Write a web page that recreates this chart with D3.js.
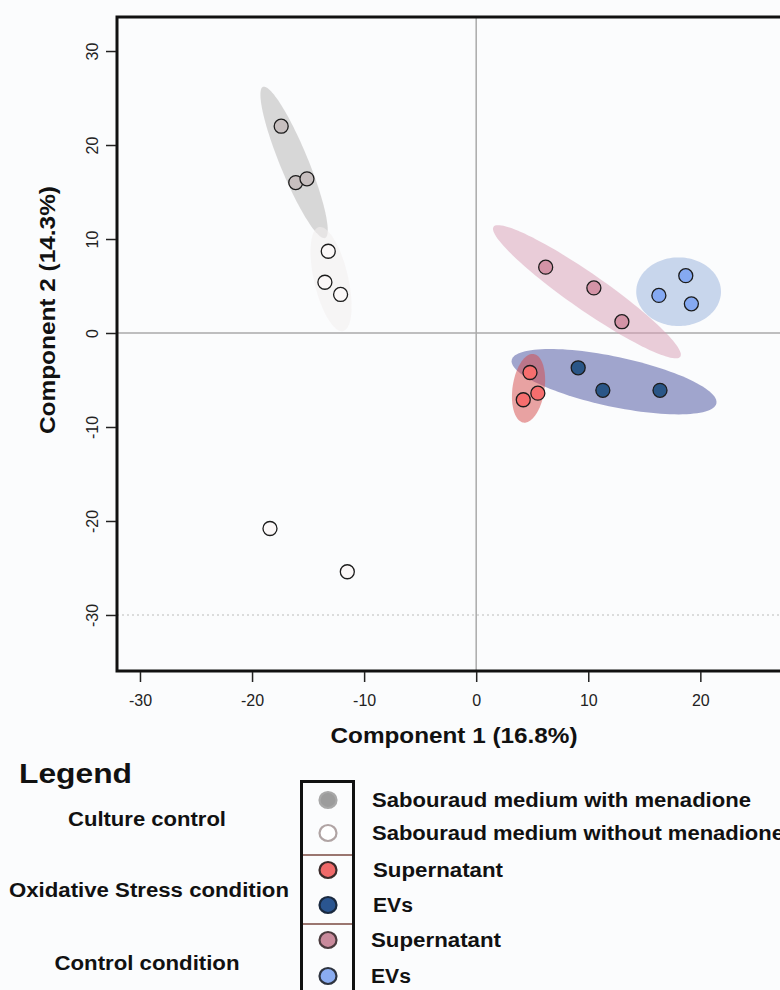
<!DOCTYPE html>
<html>
<head>
<meta charset="utf-8">
<script src="https://cdn.jsdelivr.net/npm/d3@7"></script>
<style>
  html, body { margin: 0; padding: 0; background: #fbfcfd; }
  svg { display: block; font-family: "Liberation Sans", Arial, sans-serif; }
</style>
</head>
<body>
<svg id="chart" width="780" height="990"></svg>
<script>
// ---- data (PC scores) ----
var groupNames = ["Sabouraud medium with menadione", "Sabouraud medium without menadione",
  "Supernatant", "EVs", "Supernatant", "EVs"];
var conditionNames = ["Culture control", "Oxidative Stress condition", "Control condition"];

var withMenadioneX = [-17.4, -16.1, -15.1];
var withMenadioneY = [22.0, 16.0, 16.4];
var withoutMenadioneX = [-13.2, -13.5, -12.1, -18.4, -11.5];
var withoutMenadioneY = [8.7, 5.4, 4.1, -20.8, -25.4];
var stressSupernatantX = [4.8, 5.5, 4.2];
var stressSupernatantY = [-4.2, -6.4, -7.1];
var stressEVsX = [9.1, 11.3, 16.4];
var stressEVsY = [-3.7, -6.1, -6.1];
var controlSupernatantX = [6.2, 10.5, 13.0];
var controlSupernatantY = [7.0, 4.8, 1.2];
var controlEVsX = [18.7, 16.3, 19.2];
var controlEVsY = [6.1, 4.0, 3.1];

// group ellipses in data units: centre, major half-axis vector, minor half-axis vector
var ellipseCentres = [[-16.25, 18.15], [-12.95, 5.74], [9.88, 4.39], [18.06, 4.39], [12.30, -5.18], [4.67, -5.88]];
var ellipseMajor = [[2.77, -8.04], [1.07, -5.53], [8.33, -6.91], [3.78, 0], [9.13, -2.31], [0.45, 3.65]];
var ellipseMinor = [[1.16, 0.56], [1.48, 0.40], [-0.92, -1.57], [0, 3.65], [-0.46, -2.60], [1.41, -0.24]];

var xTicks = [-30, -20, -10, 0, 10, 20];
var yTicks = [-30, -20, -10, 0, 10, 20, 30];

// ---- styles ----
var pointFill = ["#c7bfbf", "#fbf8f8", "#f66e6e", "#2a5687", "#d393a6", "#85a9f2"];
// ellipse order: menadione, without, control sup, control EVs, stress EVs, stress sup
var ellipseFill = ["#b4b2b1", "#f3eeee", "#d89cb3", "#96b0db", "#464e9d", "#d64847"];
var legendFill = ["#9c9c9c", "#ffffff", "#f06a6a", "#2a5590", "#c98a9c", "#8aacf0"];
var legendStroke = ["#a8a8a8", "#b0a4a4", "#3a2a2a", "#1a2a40", "#4a3a3e", "#2e3440"];

var svg = d3.select("#chart");
var margin = {left: 117, top: 17, bottom: 671, right: 790};

var x = d3.scaleLinear().domain([-32.05, 28.0]).range([margin.left, margin.right]);
var y = d3.scaleLinear().domain([-35.96, 33.62]).range([margin.bottom, margin.top]);

var plot = svg.append("g").attr("class", "plot");

//zero lines and the dotted guide
plot.append("line")
  .attr("x1", x(0)).attr("x2", x(0))
  .attr("y1", margin.top).attr("y2", margin.bottom)
  .attr("stroke", "#aaaaaa").attr("stroke-width", 1.5);
plot.append("line")
  .attr("x1", margin.left).attr("x2", margin.right)
  .attr("y1", y(0)).attr("y2", y(0))
  .attr("stroke", "#aaaaaa").attr("stroke-width", 1.5);
plot.append("line")
  .attr("x1", margin.left).attr("x2", margin.right)
  .attr("y1", y(-30)).attr("y2", y(-30))
  .attr("stroke", "#bbbbbb").attr("stroke-width", 1.2)
  .attr("stroke-dasharray", "2,3");

//ellipses
var line = d3.line().curve(d3.curveLinearClosed);
ellipseCentres.forEach(function(c, i) {
  var a = ellipseMajor[i], b = ellipseMinor[i], pts = [];
  for (var k = 0; k < 120; k++) {
    var t = k / 120 * 2 * Math.PI;
    pts.push([x(c[0] + a[0] * Math.cos(t) + b[0] * Math.sin(t)),
              y(c[1] + a[1] * Math.cos(t) + b[1] * Math.sin(t))]);
  }
  plot.append("path")
    .attr("d", line(pts))
    .attr("fill", ellipseFill[i])
    .attr("fill-opacity", i === 1 ? 0.55 : 0.5)
    .attr("stroke", "none");
});

//points
var seriesX = [withMenadioneX, withoutMenadioneX, stressSupernatantX, stressEVsX, controlSupernatantX, controlEVsX];
var seriesY = [withMenadioneY, withoutMenadioneY, stressSupernatantY, stressEVsY, controlSupernatantY, controlEVsY];
seriesX.forEach(function(xs, i) {
  plot.append("g").selectAll("circle")
    .data(d3.zip(xs, seriesY[i]))
    .join("circle")
    .attr("cx", function(d) { return x(d[0]); })
    .attr("cy", function(d) { return y(d[1]); })
    .attr("r", 7)
    .attr("fill", pointFill[i])
    .attr("stroke", "#1c1c1c")
    .attr("stroke-width", 1.3);
});

//frame
svg.append("path")
  .attr("d", "M" + margin.right + "," + margin.top + "H" + margin.left + "V" + margin.bottom + "H" + margin.right)
  .attr("fill", "none")
  .attr("stroke", "#111")
  .attr("stroke-width", 3);

//axes, plain hyphen for negatives as in the original
var plainFormat = function(d) { return String(d); };
var xAxis = svg.append("g")
  .attr("transform", "translate(0," + (margin.bottom + 1) + ")")
  .call(d3.axisBottom(x).tickValues(xTicks).tickFormat(plainFormat)
    .tickSize(10).tickPadding(13).tickSizeOuter(0));
xAxis.select(".domain").remove();
xAxis.selectAll("line").attr("stroke", "#222").attr("stroke-width", 1.5);
xAxis.selectAll("text").attr("font-size", 16).attr("fill", "#222")
  .attr("font-family", "'Liberation Sans', Arial, sans-serif");

var yAxis = svg.append("g")
  .attr("transform", "translate(" + (margin.left - 1) + ",0)")
  .call(d3.axisLeft(y).tickValues(yTicks).tickFormat(plainFormat).tickSize(10).tickSizeOuter(0));
yAxis.select(".domain").remove();
yAxis.selectAll("line").attr("stroke", "#222").attr("stroke-width", 1.5);
yAxis.selectAll("text")
  .attr("font-size", 16).attr("fill", "#222")
  .attr("font-family", "'Liberation Sans', Arial, sans-serif")
  .attr("x", null)
  .attr("text-anchor", "middle")
  .attr("transform", "translate(-24,0) rotate(-90)")
  .attr("dy", "0.35em");

//axis titles
svg.append("text")
  .attr("x", 454).attr("y", 743)
  .attr("text-anchor", "middle")
  .attr("font-size", 22).attr("font-weight", "bold").attr("fill", "#111")
  .attr("textLength", 247).attr("lengthAdjust", "spacingAndGlyphs")
  .text("Component 1 (16.8%)");
svg.append("text")
  .attr("transform", "translate(55,310) rotate(-90)")
  .attr("text-anchor", "middle")
  .attr("font-size", 22).attr("font-weight", "bold").attr("fill", "#111")
  .attr("textLength", 248).attr("lengthAdjust", "spacingAndGlyphs")
  .text("Component 2 (14.3%)");

// ---- legend ----
var legend = svg.append("g").attr("class", "legend");
legend.append("text")
  .attr("x", 19).attr("y", 783)
  .attr("font-size", 28).attr("font-weight", "bold").attr("fill", "#111")
  .attr("textLength", 113).attr("lengthAdjust", "spacingAndGlyphs")
  .text("Legend");

var legendRowY = [800, 833, 870, 905, 940, 976];
var legendBand = d3.scaleOrdinal().domain(d3.range(6)).range(legendRowY);

legend.append("rect")
  .attr("x", 301.5).attr("y", 781.5)
  .attr("width", 52).attr("height", 230)
  .attr("fill", "#fbfcfd").attr("stroke", "#111").attr("stroke-width", 3);
[855, 924].forEach(function(sy) {
  legend.append("line")
    .attr("x1", 303).attr("x2", 352).attr("y1", sy).attr("y2", sy)
    .attr("stroke", "#7a4a40").attr("stroke-width", 1.5);
});

legend.selectAll("ellipse.key")
  .data(groupNames)
  .join("ellipse")
  .attr("class", "key")
  .attr("cx", 328)
  .attr("cy", function(d, i) { return legendBand(i); })
  .attr("rx", 8.5).attr("ry", 8)
  .attr("fill", function(d, i) { return legendFill[i]; })
  .attr("stroke", function(d, i) { return legendStroke[i]; })
  .attr("stroke-width", 2.2);

var legendTextWidth = [379, 412, 130, 40, 130, 40];
var legendTextX = [372, 372, 373, 373, 371, 371];
legend.selectAll("text.item")
  .data(groupNames)
  .join("text")
  .attr("class", "item")
  .attr("x", function(d, i) { return legendTextX[i]; })
  .attr("y", function(d, i) { return legendBand(i) + 7; })
  .attr("font-size", 20).attr("font-weight", "bold").attr("fill", "#111")
  .attr("textLength", function(d, i) { return legendTextWidth[i]; })
  .attr("lengthAdjust", "spacingAndGlyphs")
  .text(function(d) { return d; });

var conditionY = [819, 890, 963];
var conditionX = [147, 149, 147];
var conditionWidth = [158, 280, 185];
legend.selectAll("text.cond")
  .data(conditionNames)
  .join("text")
  .attr("class", "cond")
  .attr("x", function(d, i) { return conditionX[i]; })
  .attr("y", function(d, i) { return conditionY[i] + 7; })
  .attr("text-anchor", "middle")
  .attr("font-size", 20).attr("font-weight", "bold").attr("fill", "#111")
  .attr("textLength", function(d, i) { return conditionWidth[i]; })
  .attr("lengthAdjust", "spacingAndGlyphs")
  .text(function(d) { return d; });
</script>
</body>
</html>
